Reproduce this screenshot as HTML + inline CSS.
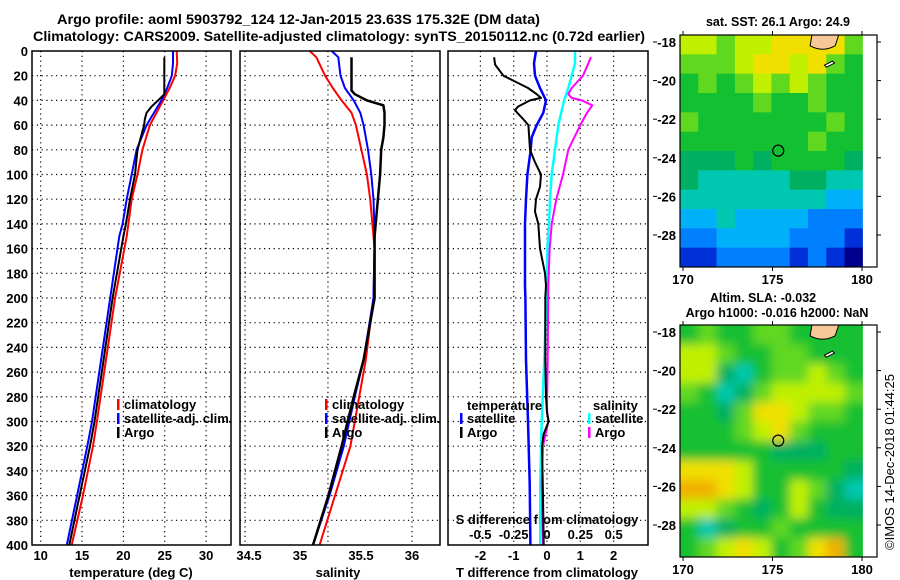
<!DOCTYPE html>
<html><head><meta charset="utf-8"><style>
html,body{margin:0;padding:0;background:#fff;}
svg{display:block;font-family:"Liberation Sans",sans-serif;font-weight:bold;}
</style></head><body>
<svg id="fig" width="900" height="580" viewBox="0 0 900 580" xmlns="http://www.w3.org/2000/svg">
<text x="57" y="24" font-size="13.5" textLength="483" lengthAdjust="spacingAndGlyphs">Argo profile: aoml 5903792_124 12-Jan-2015 23.63S 175.32E (DM data)</text>
<text x="33" y="41" font-size="13.5" textLength="612" lengthAdjust="spacingAndGlyphs">Climatology: CARS2009. Satellite-adjusted climatology: synTS_20150112.nc (0.72d earlier)</text>
<text x="778" y="26" font-size="12.5" text-anchor="middle">sat. SST: 26.1 Argo: 24.9</text>
<text x="763" y="302" font-size="12.5" text-anchor="middle">Altim. SLA: -0.032</text>
<text x="777" y="317" font-size="12.5" text-anchor="middle">Argo h1000: -0.016 h2000: NaN</text>
<text transform="translate(894,550) rotate(-90)" font-size="12.5" font-weight="normal" textLength="176" lengthAdjust="spacingAndGlyphs">©IMOS 14-Dec-2018 01:44:25</text>
<g id="g"></g>
</svg>
<script>
// ---- data ----
const tClimDepth=[0,10,20,30,40,50,60,80,100,120,140,150,200,250,300,320,360,400];
const tClimVals=[26.45,26.5,26.25,25.6,24.8,24.0,23.2,22.3,21.7,21.0,20.6,20.4,19.0,17.9,16.8,16.33,15.1,13.75];
const tSatDepth=[0,10,20,30,40,50,60,80,100,120,140,150,200,250,300,320,360,400];
const tSatVals=[26.0,26.0,25.85,25.3,24.6,23.7,22.8,21.6,21.0,20.4,19.9,19.5,18.4,17.3,16.2,15.64,14.4,13.15];
const tArgoDepth=[5,35,40,45,50,55,60,70,80,100,120,140,150,200,250,300,320,360,400];
const tArgoVals=[24.95,24.95,24.2,23.4,22.8,22.6,22.5,22.1,21.7,21.4,20.8,20.3,20.0,18.7,17.6,16.5,15.96,14.7,13.46];
const sClimDepth=[0,5,20,30,40,50,60,80,100,120,130,160,200,250,280,320,360,400];
const sClimVals=[35.07,35.13,35.21,35.28,35.36,35.45,35.49,35.54,35.59,35.62,35.63,35.66,35.65,35.58,35.52,35.44,35.30,35.16];
const sSatDepth=[0,5,20,30,40,50,60,80,100,120,150,200,250,280,320,360,400];
const sSatVals=[35.27,35.33,35.35,35.39,35.47,35.53,35.56,35.60,35.63,35.65,35.66,35.65,35.56,35.48,35.38,35.25,35.10];
const sArgoDepth=[5,32,35,40,44,50,60,70,80,100,120,140,150,200,250,280,320,360,400];
const sArgoVals=[35.45,35.45,35.48,35.59,35.74,35.75,35.75,35.74,35.72,35.71,35.69,35.67,35.66,35.66,35.56,35.47,35.36,35.24,35.10];
const dTArgoDepth=[5,11,20,30,35,38,40,45,48,55,60,80,90,100,110,120,130,140,160,180,190,200,250,280,293,300,310,320,360,400];
const dTArgoVals=[-1.59,-1.56,-1.31,-0.57,-0.31,-0.18,-0.51,-0.87,-0.96,-0.72,-0.56,-0.51,-0.36,-0.18,-0.21,-0.33,-0.36,-0.26,-0.21,-0.06,-0.03,-0.05,-0.05,-0.03,0.0,0.05,-0.1,-0.15,-0.12,-0.1];
const dTSatDepth=[0,10,20,30,40,50,60,70,80,100,120,140,160,190,200,250,300,350,400];
const dTSatVals=[-0.33,-0.39,-0.36,-0.21,-0.03,-0.11,-0.31,-0.46,-0.49,-0.59,-0.63,-0.66,-0.66,-0.66,-0.65,-0.63,-0.57,-0.52,-0.5];
const dSSatDepth=[0,10,20,30,40,60,80,100,120,140,160,190,250,300,350,400];
const dSSatVals=[0.21,0.21,0.185,0.16,0.128,0.085,0.06,0.035,0.0225,0.015,0.003,-0.002,-0.02,-0.04,-0.05,-0.05];
const dSArgoDepth=[5,20,30,35,38,40,44,50,60,80,100,120,140,160,190,250,290,300,320,350,400];
const dSArgoVals=[0.33,0.27,0.185,0.16,0.185,0.26,0.34,0.30,0.25,0.16,0.12,0.07,0.035,0.02,0.01,0.005,0.0,0.01,-0.03,-0.04,-0.03];
const depthTicks=[0,20,40,60,80,100,120,140,160,180,200,220,240,260,280,300,320,340,360,380,400];
const tTicks=[10,15,20,25,30];
const sTickLabels=["34.5","35","35.5","36"];
const sTickVals=[34.5,35,35.5,36];
const sGridVals=[34.482,35.236,36.0];
const dTTicks=[-2,-1,0,1,2];
const dSTicks=[-0.5,-0.25,0,0.25,0.5];
const dSTickLabels=["-0.5","-0.25","0","0.25","0.5"];
const latTicks=[-18,-20,-22,-24,-26,-28];
const lonTicks=[170,175,180];
const sstGrid=[
[8,8,7,8,8,9,9,9,9,7],
[7,7,7,8,9,9,8,9,7,6],
[6,7,6,7,8,7,8,7,6,6],
[6,6,6,6,7,6,6,7,6,6],
[7,6,6,6,6,6,6,6,7,6],
[6,6,6,6,6,6,6,7,6,6],
[5,5,5,6,5,6,6,6,6,5],
[5,4,4,4,4,4,5,5,4,4],
[4,4,4,4,4,4,4,4,3,3],
[3,3,4,3,3,3,3,2,2,2],
[2,2,3,3,3,3,2,2,2,1],
[1,1,2,2,2,2,1,2,1,0]];
const slaGrid=[
[6,7,6,6,7,7,6,6,6,6],
[8,8,7,6,6,7,7,6,6,6],
[8,8,5,4,6,7,7,8,7,6],
[7,6,4,5,7,8,8,8,8,7],
[6,6,5,7,9,9,8,7,7,6],
[6,6,6,7,8,9,7,6,6,6],
[6,6,6,6,6,5,5,5,6,6],
[9,9,9,8,6,6,6,6,6,5],
[10,10,9,8,6,6,8,7,5,4],
[8,8,7,6,5,6,8,6,5,5],
[6,4,5,6,6,7,6,6,6,6],
[6,7,8,9,8,6,7,9,10,6]];
const palette=["#00008c","#0030d8","#0080ff","#00b0f8","#00c8b0","#00b060","#12c032","#60d820","#c0f000","#f0e000","#f0b000"];
const argoLon=175.32, argoLat=-23.63;

// ---- helpers ----
const NS="http://www.w3.org/2000/svg";
const G=document.getElementById('g');
function mk(tag,attrs,parent){const e=document.createElementNS(NS,tag);for(const k in attrs)e.setAttribute(k,attrs[k]);(parent||G).appendChild(e);return e;}
const top0=51, bot=545;
const yD=d=>top0+d*(bot-top0)/400;
const xT=v=>40.7+(v-10)*8.27;
const xS=v=>247+(v-34.5)*110;
const xDT=v=>547+v*33.3;
const xDS=v=>547+v*133.3;
const panels=[{l:32,r:231},{l:240,r:440},{l:448,r:648}];

function hGrid(p){for(const d of depthTicks){if(d===0||d===400)continue;const l=mk('line',{x1:p.l,x2:p.r,y1:yD(d),y2:yD(d),stroke:'#000','stroke-width':1.2,'stroke-dasharray':'1.2 3.6'});

}}
function vGrid(p,x){const l=mk('line',{x1:x,x2:x,y1:top0,y2:bot,stroke:'#000','stroke-width':1.2,'stroke-dasharray':'1.2 3.6'});

}
function line(depths,vals,fx,color,w,name){const pts=depths.map((d,i)=>fx(vals[i]).toFixed(1)+','+yD(d).toFixed(1)).join(' ');
const pl=mk('polyline',{points:pts,fill:'none',stroke:color,'stroke-width':w,'stroke-linejoin':'round'});

}
function txt(x,y,s,opt){const t=mk('text',Object.assign({x:x,y:y,'font-size':13},opt||{}));t.textContent=s;return t;}

panels.forEach(hGrid);
tTicks.forEach(v=>vGrid(panels[0],xT(v)));
sGridVals.forEach(v=>vGrid(panels[1],xS(v)));
dTTicks.forEach(v=>vGrid(panels[2],xDT(v)));

for(const d of depthTicks){const t=txt(28,yD(d)+5,String(d),{'text-anchor':'end'});

}
tTicks.forEach(v=>{const t=txt(xT(v),560,String(v),{'text-anchor':'middle'});

});
sTickVals.forEach((v,i)=>{const t=txt(xS(v)+(i===0?2:(i===1?-2:(i===2?4:0))),560,sTickLabels[i],{'text-anchor':'middle'});

});
dTTicks.forEach(v=>{const t=txt(xDT(v),560,String(v),{'text-anchor':'middle'});

});
dSTicks.forEach((v,i)=>{const t=txt(xDS(v),539,dSTickLabels[i],{'text-anchor':'middle'});

});
let t;
t=txt(131,577,'temperature (deg C)',{'text-anchor':'middle'});


t=txt(338,577,'salinity',{'text-anchor':'middle'});


t=txt(547,577,'T difference from climatology',{'text-anchor':'middle'});


t=txt(547,524,'S difference from climatology',{'text-anchor':'middle'});



line(tClimDepth,tClimVals,xT,'#f00',2,'temp-climatology-line');
line(tSatDepth,tSatVals,xT,'#00f',2,'temp-satellite-line');
line(tArgoDepth,tArgoVals,xT,'#000',2,'temp-argo-line');
line(sClimDepth,sClimVals,xS,'#f00',2,'sal-climatology-line');
line(sSatDepth,sSatVals,xS,'#00f',2,'sal-satellite-line');
line(sArgoDepth,sArgoVals,xS,'#000',2.5,'sal-argo-line');
line(dTSatDepth,dTSatVals,xDT,'#00f',2.5,'t-diff-satellite-line');
line(dSSatDepth,dSSatVals,xDS,'#0ff',2.5,'s-diff-satellite-line');
line(dSArgoDepth,dSArgoVals,xDS,'#f0f',2,'s-diff-argo-line');
line(dTArgoDepth,dTArgoVals,xDT,'#000',2,'t-diff-argo-line');

function legend(x,y,color,label,name){const b=mk('rect',{x:x,y:y-8,width:2.5,height:11,fill:color});


const tt=txt(x+7,y+2,label);

}
legend(117,407,'#f00','climatology','legend-climatology');
legend(117,421,'#00f','satellite-adj. clim.','legend-satellite-adj');
legend(117,435,'#000','Argo','legend-argo');
legend(325,407,'#f00','climatology','legend-sal-climatology');
legend(325,421,'#00f','satellite-adj. clim.','legend-sal-satellite-adj');
legend(325,435,'#000','Argo','legend-sal-argo');
t=txt(467,410,'temperature');


t=txt(593,410,'salinity');


legend(460,421,'#00f','satellite','legend-t-satellite');
legend(460,435,'#000','Argo','legend-t-argo');
legend(588,421,'#0ff','satellite','legend-s-satellite');
legend(588,435,'#f0f','Argo','legend-s-argo');

panels.forEach((p,i)=>{const r=mk('rect',{x:p.l,y:top0,width:p.r-p.l,height:bot-top0,fill:'none',stroke:'#000','stroke-width':1.5});

});

// ---- maps ----
const lonX=lon=>683+(lon-170)*17.9;
const mapL=680, mapR=877, dataR=lonX(180.05);
const lon0=169.83, dLon=(180.05-169.83)/10;
const defs=mk('defs',{});
const flt=mk('filter',{id:'blur',x:'-10%',y:'-10%',width:'120%',height:'120%'},defs);
mk('feGaussianBlur',{stdDeviation:5,edgeMode:'duplicate'},flt);
function drawMap(grid,latY,mtop,mbot,blur,name){
 const cp=mk('clipPath',{id:'clip-'+name},defs);
 mk('rect',{x:mapL,y:mtop,width:dataR-mapL,height:mbot-mtop},cp);
 const outer=mk('g',{'clip-path':'url(#clip-'+name+')'});
 
 
 const inner=mk('g',blur?{filter:'url(#blur)'}:{},outer);
 const rowH=(mbot-mtop)/grid.length;
 grid.forEach((row,ri)=>row.forEach((v,ci)=>{
  let x=lonX(lon0+ci*dLon), w=lonX(lon0+(ci+1)*dLon)-x+0.5, y=mtop+ri*rowH, h=rowH+0.5;
  if(blur){if(ci===0){x-=20;w+=20;} if(ci===row.length-1)w+=20; if(ri===0){y-=20;h+=20;} if(ri===grid.length-1)h+=20;}
  const c=mk('rect',{x:x,y:y,width:w,height:h,fill:palette[v]},inner);
  
  
 }));
 const isl=mk('path',{d:`M${lonX(177.2)},${mtop} L${lonX(177.1)},${latY(-18.2)} Q${lonX(177.8)},${latY(-18.55)} ${lonX(178.5)},${latY(-18.2)} L${lonX(178.7)},${mtop} Z`,fill:'#f8c898',stroke:'#000','stroke-width':1});
 
 
 const isl2=mk('path',{d:`M${lonX(177.9)},${latY(-19.2)} l8,-4 l2,2 l-8,4 z`,fill:'#fff',stroke:'#000','stroke-width':1});
 
 
 const c=mk('circle',{cx:lonX(argoLon),cy:latY(argoLat),r:5.5,fill:'none',stroke:'#000','stroke-width':1.2});
 
 
 const f=mk('rect',{x:mapL,y:mtop,width:mapR-mapL,height:mbot-mtop,fill:'none',stroke:'#000','stroke-width':1.2});
 
 
 latTicks.forEach(v=>{const y=latY(v);
  mk('line',{x1:653,x2:657,y1:y,y2:y,stroke:'#000'});
  mk('line',{x1:mapR,x2:mapR+4,y1:y,y2:y,stroke:'#000'});
  const tl=txt(676,y+5,String(v),{'text-anchor':'end'});
  
  });
 lonTicks.forEach(v=>{const x=lonX(v);
  mk('line',{x1:x,x2:x,y1:mtop-4,y2:mtop,stroke:'#000'});
  mk('line',{x1:x,x2:x,y1:mbot,y2:mbot+4,stroke:'#000'});
  const tl=txt(x,mbot+17,String(v),{'text-anchor':'middle'});
  
  });
}
drawMap(sstGrid,lat=>42+(-18-lat)*19.3,35,267,false,'sst-map');
drawMap(slaGrid,lat=>332+(-18-lat)*19.3,325,557,true,'sla-map');
</script>
</body></html>
